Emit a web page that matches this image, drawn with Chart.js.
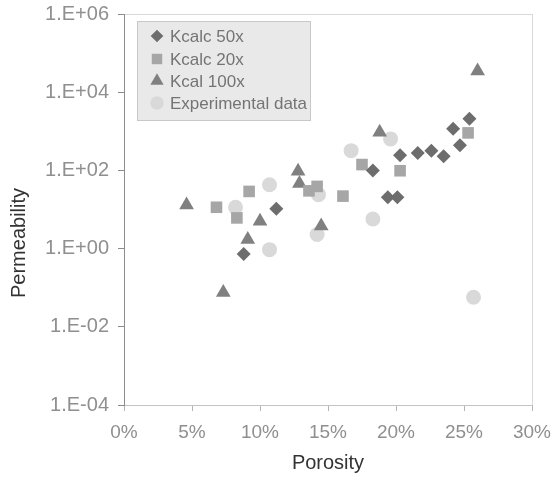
<!DOCTYPE html>
<html lang="en">
<head>
    <meta charset="UTF-8">
    <title>Permeability vs Porosity</title>
    <style>
        html, body { margin: 0; padding: 0; background: #fff; }
        #wrap { width: 551px; height: 478px; }
    </style>
</head>
<body>
    <div id="wrap"><canvas id="myChart" width="551" height="478"></canvas></div>

    <script src="https://cdn.jsdelivr.net/npm/chart.js@4.4.0/dist/chart.umd.min.js"></script>
    <script>
        // porosity in %, permeability
        var k50x = [8.8, 11.2, 18.3, 19.4, 20.1, 20.3, 21.6, 22.6, 23.5, 24.2, 24.7, 25.4];
        var k50y = [0.73, 10.5, 99, 20.5, 20.5, 244, 280, 320, 230, 1170, 440, 2100];

        var k20x = [6.8, 8.3, 9.2, 13.6, 14.2, 16.1, 17.5, 20.3, 25.3];
        var k20y = [11.4, 6.1, 29, 30, 39, 22, 141, 98, 910];

        var k100x = [4.6, 7.3, 9.1, 10.0, 12.8, 12.9, 14.5, 18.8, 26.0];
        var k100y = [13, 0.075, 1.7, 5.0, 95, 46, 3.8, 950, 35000];

        var expX = [8.2, 10.7, 10.7, 14.2, 14.3, 16.7, 18.3, 19.6, 25.7];
        var expY = [11.4, 43, 0.94, 2.3, 24, 320, 5.7, 640, 0.057];

        var seriesNames = ["Kcalc 50x", "Kcalc 20x", "Kcal 100x", "Experimental data"];
        var yTicks = [1e-4, 1e-2, 1, 1e2, 1e4, 1e6];

        function pts(xs, ys) {
            var out = [];
            for (var i = 0; i < xs.length; i++) out.push({ x: xs[i], y: ys[i] });
            return out;
        }

        function expLabel(v) {
            var e = Math.round(Math.log10(v));
            var s = Math.abs(e) < 10 ? "0" + Math.abs(e) : "" + Math.abs(e);
            return "1.E" + (e < 0 ? "-" : "+") + s;
        }

        var data = {
            datasets: [
                { label: seriesNames[0], data: pts(k50x, k50y), pointStyle: 'rectRot', pointRadius: 7, backgroundColor: '#6d6d6d', borderColor: '#6d6d6d', borderWidth: 0 },
                { label: seriesNames[1], data: pts(k20x, k20y), pointStyle: 'rect', pointRadius: 8.2, backgroundColor: '#a6a6a6', borderColor: '#a6a6a6', borderWidth: 0 },
                { label: seriesNames[2], data: pts(k100x, k100y), pointStyle: 'triangle', pointRadius: 8.5, backgroundColor: '#808080', borderColor: '#808080', borderWidth: 0 },
                { label: seriesNames[3], data: pts(expX, expY), pointStyle: 'circle', pointRadius: 7.5, backgroundColor: '#d9d9d9', borderColor: '#d9d9d9', borderWidth: 0 }
            ]
        };

        // light frame on top/right of the plot area
        var frame = {
            id: 'frame',
            beforeDraw: function (chart) {
                var a = chart.chartArea, ctx = chart.ctx;
                ctx.save();
                ctx.strokeStyle = '#d9d9d9';
                ctx.lineWidth = 1;
                ctx.strokeRect(Math.round(a.left) + 0.5, Math.round(a.top) + 0.5, Math.round(a.right - a.left), Math.round(a.bottom - a.top));
                ctx.restore();
            }
        };

        // legend box + y title
        var extras = {
            id: 'extras',
            afterDraw: function (chart) {
                var ctx = chart.ctx;
                ctx.save();
                ctx.fillStyle = '#e9e9e9';
                ctx.fillRect(137.5, 21.5, 173, 99);
                ctx.strokeStyle = '#c8c8c8';
                ctx.lineWidth = 1;
                ctx.strokeRect(137.5, 21.5, 173, 99);

                ctx.font = '17px "Liberation Sans", Arial, sans-serif';
                ctx.textBaseline = 'middle';
                ctx.textAlign = 'left';
                var ys = [36, 59, 81, 103];
                chart.data.datasets.forEach(function (ds, i) {
                    ctx.fillStyle = ds.backgroundColor;
                    ctx.strokeStyle = ds.backgroundColor;
                    Chart.helpers.drawPoint(ctx, { pointStyle: ds.pointStyle, radius: ds.pointRadius * 0.9, rotation: 0, borderWidth: 0 }, 157, ys[i]);
                    ctx.fillStyle = '#747474';
                    ctx.fillText(ds.label, 170, ys[i] + 1);
                });

                ctx.translate(19, 243);
                ctx.rotate(-Math.PI / 2);
                ctx.textAlign = 'center';
                ctx.fillStyle = '#333';
                ctx.font = '20px "Liberation Sans", Arial, sans-serif';
                ctx.fillText('Permeability', 0, 0);
                ctx.restore();
            }
        };

        function createChart() {
            var ctx = document.getElementById("myChart").getContext("2d");
            new Chart(ctx, {
                type: 'scatter',
                data: data,
                plugins: [frame, extras],
                options: {
                    responsive: false,
                    animation: false,
                    layout: { padding: { top: 14, right: 19, bottom: 0, left: 0 } },
                    plugins: { legend: { display: false }, tooltip: { enabled: false } },
                    scales: {
                        x: {
                            type: 'linear', min: 0, max: 30,
                            ticks: {
                                stepSize: 5, padding: 10, color: '#8f8f8f', maxRotation: 0,
                                font: { family: '"Liberation Sans", Arial, sans-serif', size: 19 },
                                callback: function (v) { return v + '%'; }
                            },
                            grid: { drawOnChartArea: false, drawTicks: true, tickLength: 6, color: '#b4b4b4' },
                            border: { color: '#c4c4c4' },
                            title: {
                                display: true, text: 'Porosity', color: '#333',
                                font: { family: '"Liberation Sans", Arial, sans-serif', size: 20 },
                                padding: { top: 0, bottom: 3 }
                            },
                            afterFit: function (s) {
                                s.height = 73;
                                s.paddingLeft = 0;
                                s.paddingRight = 0;
                            }
                        },
                        y: {
                            type: 'logarithmic', min: 1e-4, max: 1e6,
                            afterBuildTicks: function (s) {
                                s.ticks = yTicks.map(function (v) { return { value: v }; });
                            },
                            ticks: {
                                padding: 9, color: '#8f8f8f', autoSkip: false,
                                font: { family: '"Liberation Sans", Arial, sans-serif', size: 20 },
                                callback: function (v) { return expLabel(v); }
                            },
                            grid: { drawOnChartArea: false, drawTicks: true, tickLength: 6, color: '#8c8c8c' },
                            border: { color: '#8c8c8c' },
                            afterFit: function (s) {
                                s.width = 124;
                                s.paddingTop = 0;
                                s.paddingBottom = 0;
                            }
                        }
                    }
                }
            });
        }

        createChart();
    </script>
</body>
</html>
